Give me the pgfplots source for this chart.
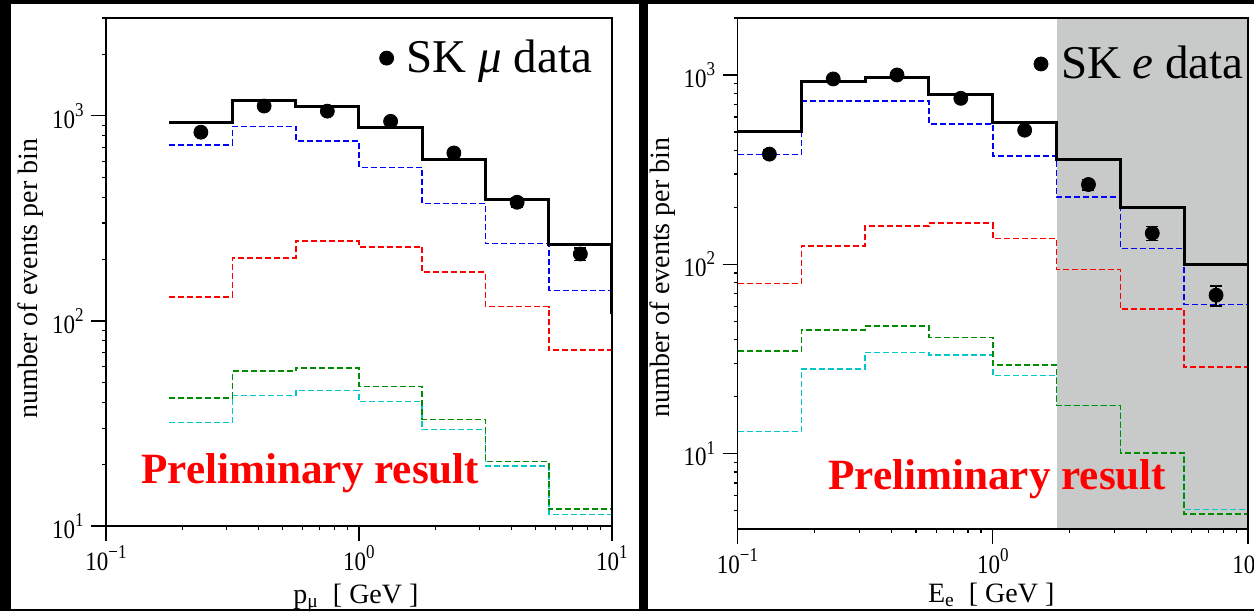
\documentclass[border=0pt]{standalone}
\usepackage{graphicx}
\usepackage{pgfplots}
\pgfplotsset{compat=1.18}
\usepackage{fontspec}
\setmainfont{Liberation Serif}

\definecolor{shade}{RGB}{200,201,201}
\definecolor{hblue}{RGB}{0,0,255}
\definecolor{hred}{RGB}{255,0,0}
\definecolor{hgreen}{RGB}{0,140,0}
\definecolor{hcyan}{RGB}{0,200,200}

\newcommand{\tl}[1]{\scalebox{1}[1.15]{10\raisebox{0.45em}{\fontsize{8.5}{9}\selectfont #1}}}

\pgfplotstableread{
x y
0.17783 929
0.31623 1187
0.56234 1111
1.0     880
1.7783  610
3.1623  393
5.6234  236
10.0    110
17.783  110
}\LBlack
\pgfplotstableread{
x y
0.17783 723
0.31623 889
0.56234 755
1.0     561
1.7783  374
3.1623  238
5.6234  141
10.0    87
17.783  87
}\LBlue
\pgfplotstableread{
x y
0.17783 131
0.31623 203
0.56234 245
1.0     230
1.7783  173
3.1623  117.5
5.6234  72
10.0    41
17.783  41
}\LRed
\pgfplotstableread{
x y
0.17783 42.2
0.31623 56.8
0.56234 59
1.0     47.9
1.7783  33.1
3.1623  20.6
5.6234  12.1
10.0    3
17.783  3
}\LGreen
\pgfplotstableread{
x y
0.17783 32
0.31623 43.3
0.56234 45.8
1.0     40.5
1.7783  29.5
3.1623  19.6
5.6234  11.4
10.0    3
17.783  3
}\LCyan
\pgfplotstableread{
x y e
0.23714 832 28.8
0.42170 1116 33.4
0.74989 1054 32.5
1.3335  940 30.7
2.3714  659 25.7
4.2170  379 19.5
7.4989  212 14.6
}\LData

\pgfplotstableread{
x y
0.1     506
0.17783 927
0.31623 968
0.56234 789
1.0     561
1.7783  356
3.1623  199
5.6234  99.5
10.0    46
17.783  46
}\RBlack
\pgfplotstableread{
x y
0.1     380
0.17783 728
0.31623 728
0.56234 553
1.0     373
1.7783  226
3.1623  121
5.6234  61.4
10.0    42
17.783  42
}\RBlue
\pgfplotstableread{
x y
0.1     79.2
0.17783 125
0.31623 159
0.56234 165
1.0     137
1.7783  94
3.1623  58.2
5.6234  28.6
10.0    13
17.783  13
}\RRed
\pgfplotstableread{
x y
0.1     34.8
0.17783 45.1
0.31623 47.3
0.56234 41
1.0     29.3
1.7783  18
3.1623  10.1
5.6234  4.8
10.0    1.5
17.783  1.5
}\RGreen
\pgfplotstableread{
x y
0.1     13.1
0.17783 28
0.31623 34.3
0.56234 33.2
1.0     25.9
1.7783  18
3.1623  10.1
5.6234  5.08
10.0    1.5
17.783  1.5
}\RCyan
\pgfplotstableread{
x y e
0.13335 382 19.5
0.23714 953 30.9
0.42170 1000 31.6
0.74989 753 27.4
1.3335  511 22.6
2.3714  264 16.2
4.2170  146 12.1
7.4989  68.7 8.3
}\RData

\begin{document}
\begin{tikzpicture}
\useasboundingbox (0,0) rectangle (627pt,305.5pt);
\clip (0,0) rectangle (627pt,305.5pt);
\fill[black] (0,0) rectangle (627pt,305.5pt);
\fill[white] (5.5pt,1pt) rectangle (319.5pt,303.5pt);
\fill[white] (324pt,1pt) rectangle (627pt,303.5pt);

% ---------------- left panel ----------------
\begin{axis}[
  scale only axis,
  xmode=log, ymode=log,
  xmin=0.1, xmax=10,
  ymin=10, ymax=3000,
  at={(53pt,42.5pt)}, anchor=south west,
  width=253pt, height=254pt,
  axis on top,
  tick pos=left,
  tick align=outside,
  major tick length=7.5pt,
  minor tick length=2pt,
  axis line style={line width=0.6pt},
  tick style={line width=0.6pt, black},
  xtick={0.1,1,10},
  xticklabels={\tl{−1},\tl{0},\tl{1}},
  minor xtick={0.2,0.3,0.4,0.5,0.6,0.7,0.8,0.9,2,3,4,5,6,7,8,9},
  ytick={10,100,1000},
  yticklabels={\tl{1},\tl{2},\tl{3}},
  minor ytick={20,30,40,50,60,70,80,90,200,300,400,500,600,700,800,900,2000,3000},
  tick label style={font=\fontsize{11.5}{13}\selectfont},
  yticklabel style={inner sep=3.5pt},
  xticklabel style={inner sep=2pt},
  xlabel={p\textsubscript{μ}\ \ [ GeV ]},
  ylabel={number of events per bin},
  xlabel style={font=\fontsize{14}{16}\selectfont, at={(axis description cs:0.494,-0.152)}, anchor=base},
  ylabel style={font=\fontsize{14}{16}\selectfont, at={(axis description cs:-0.148,0.487)}, anchor=center},
  legend style={draw=none, fill=none, inner sep=0pt,
    font=\fontsize{23.5}{28}\selectfont,
    at={(axis description cs:0.54,0.921)}, anchor=west},
  legend cell align=left,
]
\addplot[const plot, hcyan, line width=0.8pt, dash pattern=on 3pt off 1.5pt, forget plot] table {\LCyan};
\addplot[const plot, hgreen, line width=0.8pt, dash pattern=on 3pt off 1.5pt, forget plot] table {\LGreen};
\addplot[const plot, hred, line width=0.8pt, dash pattern=on 3pt off 1.5pt, forget plot] table {\LRed};
\addplot[const plot, hblue, line width=0.8pt, dash pattern=on 3pt off 1.5pt, forget plot] table {\LBlue};
\addplot[const plot, black, line width=1.5pt, forget plot] table {\LBlack};
\addplot[forget plot, only marks, mark=*, mark size=3.5pt, black,
  error bars/.cd, y dir=both, y explicit,
  error bar style={line width=0.8pt, black},
  error mark options={rotate=90, mark size=3pt, line width=0.8pt, black}]
  table[x=x, y=y, y error=e] {\LData};
\addlegendimage{only marks, mark=*, mark size=3.5pt, black}
\addlegendentry{\hspace{4.5pt}SK {\itshape μ} data}
\node[anchor=base west, inner sep=0pt, text=hred,
  font=\fontsize{21.6}{25}\selectfont\bfseries]
  at (rel axis cs:0.069,0.0846) {Preliminary result};
\end{axis}

% ---------------- right panel ----------------
\begin{axis}[
  scale only axis,
  xmode=log, ymode=log,
  xmin=0.1, xmax=10,
  ymin=4, ymax=2000,
  at={(368.75pt,41pt)}, anchor=south west,
  width=255.25pt, height=255.5pt,
  axis on top,
  tick pos=left,
  tick align=outside,
  major tick length=7.5pt,
  minor tick length=2pt,
  axis line style={line width=0.6pt},
  tick style={line width=0.6pt, black},
  xtick={0.1,1,10},
  xticklabels={\tl{−1},\tl{0},\tl{1}},
  minor xtick={0.2,0.3,0.4,0.5,0.6,0.7,0.8,0.9,2,3,4,5,6,7,8,9},
  ytick={10,100,1000},
  yticklabels={\tl{1},\tl{2},\tl{3}},
  minor ytick={5,6,7,8,9,20,30,40,50,60,70,80,90,200,300,400,500,600,700,800,900,2000},
  tick label style={font=\fontsize{11.5}{13}\selectfont},
  yticklabel style={inner sep=3.5pt},
  xticklabel style={inner sep=2pt},
  xlabel={E\textsubscript{e}\ \ [ GeV ]},
  ylabel={number of events per bin},
  xlabel style={font=\fontsize{14}{16}\selectfont, at={(axis description cs:0.497,-0.143)}, anchor=base},
  ylabel style={font=\fontsize{14}{16}\selectfont, at={(axis description cs:-0.147,0.492)}, anchor=center},
  legend style={draw=none, fill=none, inner sep=0pt,
    font=\fontsize{23.5}{28}\selectfont,
    at={(axis description cs:0.58,0.91)}, anchor=west},
  legend cell align=left,
]
\addplot[fill=shade, draw=none, forget plot] coordinates
  {(1.7783,1) (1.7783,5000) (30,5000) (30,1)} --cycle;
\addplot[const plot, hcyan, line width=0.8pt, dash pattern=on 3pt off 1.5pt, forget plot] table {\RCyan};
\addplot[const plot, hgreen, line width=0.8pt, dash pattern=on 3pt off 1.5pt, forget plot] table {\RGreen};
\addplot[const plot, hred, line width=0.8pt, dash pattern=on 3pt off 1.5pt, forget plot] table {\RRed};
\addplot[const plot, hblue, line width=0.8pt, dash pattern=on 3pt off 1.5pt, forget plot] table {\RBlue};
\addplot[const plot, black, line width=1.5pt, forget plot] table {\RBlack};
\addplot[forget plot, only marks, mark=*, mark size=3.5pt, black,
  error bars/.cd, y dir=both, y explicit,
  error bar style={line width=0.8pt, black},
  error mark options={rotate=90, mark size=3pt, line width=0.8pt, black}]
  table[x=x, y=y, y error=e] {\RData};
\addlegendimage{only marks, mark=*, mark size=3.5pt, black}
\addlegendentry{\hspace{4.5pt}SK {\itshape e} data}
\node[anchor=base west, inner sep=0pt, text=hred,
  font=\fontsize{21.6}{25}\selectfont\bfseries]
  at (rel axis cs:0.177,0.078) {Preliminary result};
\end{axis}
\end{tikzpicture}
\end{document}
